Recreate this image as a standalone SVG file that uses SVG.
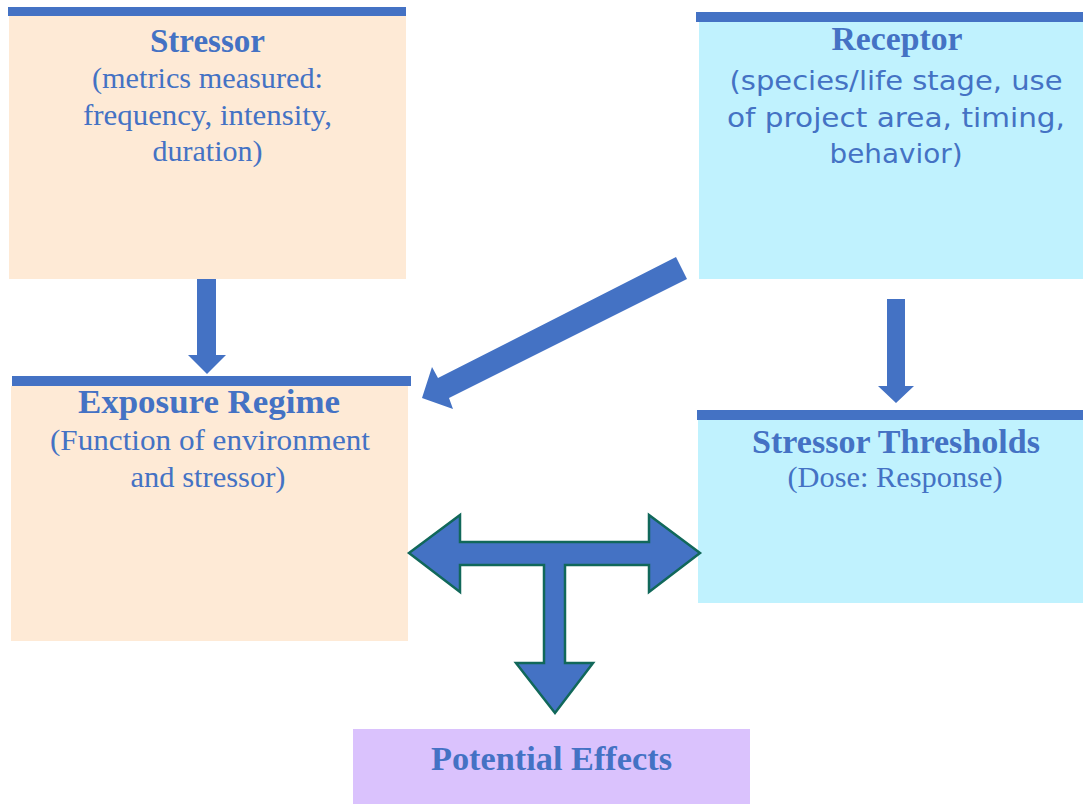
<svg xmlns="http://www.w3.org/2000/svg" width="1083" height="804" viewBox="0 0 1083 804">
<style>
.peach{fill:#FEEAD6}
.cyan{fill:#C0F2FE}
.lav{fill:#DAC2FD}
.bar{fill:#4472C4}
.arrow{fill:#4472C4}
.t{font-family:"Liberation Serif",serif;fill:#4472C4;text-anchor:middle}
.b{font-weight:bold;font-size:33px}
.s{font-size:30px}
.ss{font-family:"DejaVu Sans","Open Sans",sans-serif;font-size:27px;fill:#4472C4;text-anchor:middle}
</style>
<rect width="1083" height="804" fill="#ffffff"/>
<g id="stressor">
<rect class="peach" x="9" y="16" width="397" height="263"/>
<rect class="bar" x="8" y="7" width="398" height="9"/>
<text class="t b" x="207.5" y="52" textLength="115" lengthAdjust="spacingAndGlyphs">Stressor</text>
<text class="t s" x="207.5" y="88" textLength="231" lengthAdjust="spacingAndGlyphs">(metrics measured:</text>
<text class="t s" x="207.5" y="125" textLength="249" lengthAdjust="spacingAndGlyphs">frequency, intensity,</text>
<text class="t s" x="207.5" y="161" textLength="110" lengthAdjust="spacingAndGlyphs">duration)</text>
</g>
<g id="receptor">
<rect class="cyan" x="699" y="22" width="384" height="257"/>
<rect class="bar" x="696" y="12" width="387" height="10"/>
<text class="t b" x="897" y="50" textLength="131" lengthAdjust="spacingAndGlyphs">Receptor</text>
<text class="ss" x="896" y="90" textLength="333" lengthAdjust="spacingAndGlyphs">(species/life stage, use</text>
<text class="ss" x="896" y="127" textLength="338" lengthAdjust="spacingAndGlyphs">of project area, timing,</text>
<text class="ss" x="896" y="163" textLength="133" lengthAdjust="spacingAndGlyphs">behavior)</text>
</g>
<g id="exposure">
<rect class="peach" x="11" y="386" width="397" height="255"/>
<rect class="bar" x="12" y="376" width="399" height="10"/>
<text class="t b" x="209" y="413" textLength="262" lengthAdjust="spacingAndGlyphs">Exposure Regime</text>
<text class="t s" x="210" y="450" textLength="320" lengthAdjust="spacingAndGlyphs">(Function of environment</text>
<text class="t s" x="208" y="487" textLength="155" lengthAdjust="spacingAndGlyphs">and stressor)</text>
</g>
<g id="thresholds">
<rect class="cyan" x="698" y="420" width="385" height="183"/>
<rect class="bar" x="697" y="410" width="386" height="10"/>
<text class="t b" x="896" y="453" textLength="288" lengthAdjust="spacingAndGlyphs">Stressor Thresholds</text>
<text class="t s" x="895" y="487" textLength="215" lengthAdjust="spacingAndGlyphs">(Dose: Response)</text>
</g>
<g id="effects">
<rect class="lav" x="353" y="729" width="397" height="75"/>
<text class="t b" x="551.5" y="770" textLength="241" lengthAdjust="spacingAndGlyphs">Potential Effects</text>
</g>
<g id="connectors">
<polygon class="arrow" points="197,279 216,279 216,355 226,355 207,374 188,355 197,355"/>
<polygon class="arrow" points="887,299 905,299 905,386 914,386 896,403 878,386 887,386"/>
<polygon class="arrow" points="676,257 687,279 449,398 453,409 422,398 432,367 438,378"/>
<polygon fill="#4472C4" stroke="#11685A" stroke-width="2.5" stroke-linejoin="miter" points="409,553 460,515 460,542 649,542 649,515 700,553 649,592 649,565 565,565 565,663 593,663 555,713 516,663 544,663 544,565 460,565 460,592"/>
</g>
</svg>
